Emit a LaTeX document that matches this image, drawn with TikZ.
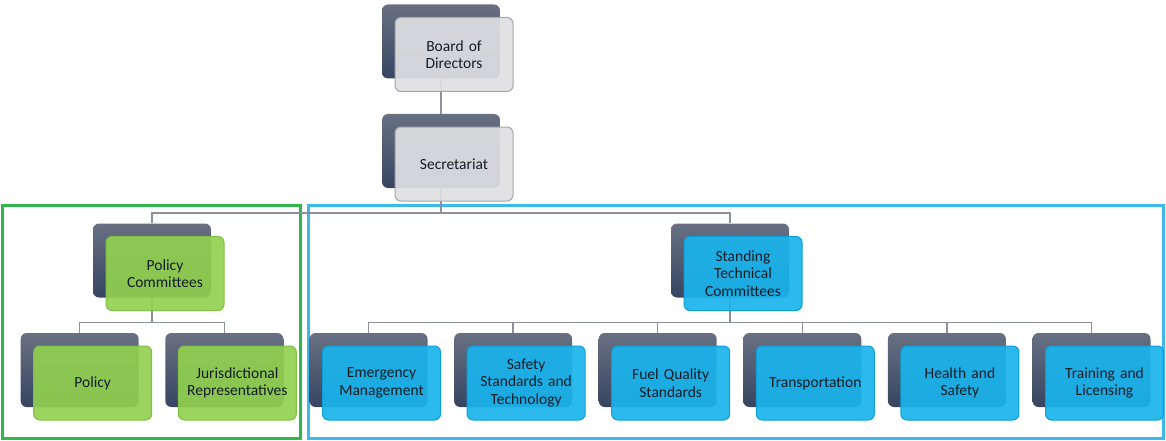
\documentclass[tikz,border=0pt]{standalone}
\usepackage{fontspec}
\setmainfont{Carlito}

\definecolor{slatetop}{HTML}{687082}
\definecolor{slatebot}{HTML}{374562}
\definecolor{greyfill}{HTML}{DFE0E3}
\definecolor{greyline}{HTML}{A2A6AD}
\definecolor{leaffill}{HTML}{92D050}
\definecolor{leafline}{HTML}{80BE45}
\definecolor{skyfill}{HTML}{1AB4EC}
\definecolor{skyline}{HTML}{0C9FD6}
\definecolor{linkgrey}{HTML}{8C9199}
\definecolor{framegreen}{HTML}{2EB84C}
\definecolor{frameblue}{HTML}{3AB9EA}
\definecolor{labelink}{HTML}{141C26}

\tikzset{
    shadowbox/.style={rectangle, rounded corners=6pt, minimum width=118pt,
        minimum height=74pt, inner sep=0pt, top color=slatetop, bottom color=slatebot},
    frontbox/.style={rectangle, rounded corners=6pt, minimum width=118pt,
        minimum height=74pt, inner sep=2pt, text width=112pt, align=center,
        line width=1pt, fill opacity=0.92, text opacity=1, text=labelink,
        font=\fontsize{15.5}{17.5}\selectfont},
    greybox/.style={frontbox, fill=greyfill, draw=greyline},
    leafbox/.style={frontbox, fill=leaffill, draw=leafline},
    skybox/.style={frontbox, fill=skyfill, draw=skyline},
    groupframe/.style={line width=3pt}
}

\begin{document}
\begin{tikzpicture}[x=1pt, y=1pt,
        level distance=109.5pt,
        level 2/.style={sibling distance=578pt},
        level 3/.style={sibling distance=144.6pt},
        edge from parent/.style={draw=linkgrey, line width=1.5pt},
        edge from parent path={(\tikzparentnode.south) -- ++(0,-25pt) -| (\tikzchildnode.north)}]
    \useasboundingbox (0,0) rectangle (1166,-441);

    \draw[groupframe, framegreen] (2.5,-205) rectangle (300.5,-438.5);
    \draw[groupframe, frameblue] (308,-205) rectangle (1163.5,-438.5);

    \node[shadowbox] (bod) at (441,-41.5) {}
        child {
            node[shadowbox] (sec) {}
            child {
                node[shadowbox] (pc) {}
                child { node[shadowbox] (pol) {} }
                child { node[shadowbox] (jur) {} }
            }
            child {
                node[shadowbox] (stc) {}
                child { node[shadowbox] (em) {} }
                child { node[shadowbox] (sst) {} }
                child { node[shadowbox] (fqs) {} }
                child { node[shadowbox] (tra) {} }
                child { node[shadowbox] (hs) {} }
                child { node[shadowbox] (tl) {} }
            }
        };

    \foreach \n/\s/\t in {
            bod/greybox/{Board of\\Directors},
            sec/greybox/{Secretariat},
            pc/leafbox/{Policy\\Committees},
            pol/leafbox/{Policy},
            jur/leafbox/{Jurisdictional\\Representatives},
            stc/skybox/{Standing\\Technical\\Committees},
            em/skybox/{Emergency\\Management},
            sst/skybox/{Safety\\Standards and\\Technology},
            fqs/skybox/{Fuel Quality\\Standards},
            tra/skybox/{Transportation},
            hs/skybox/{Health and\\Safety},
            tl/skybox/{Training and\\Licensing}}
        \node[\s] (\n-front) at ([shift={(13,-13)}]\n.center) {\t};
\end{tikzpicture}
\end{document}
